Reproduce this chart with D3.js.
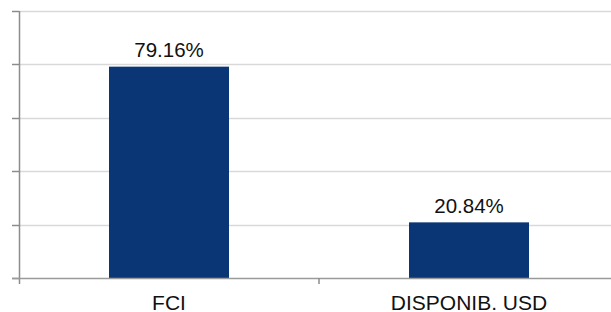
<!DOCTYPE html>
<html>
<head>
<meta charset="utf-8">
<script src="https://cdn.jsdelivr.net/npm/d3@7"></script>
<style>
  body { margin: 0; background: #fff; }
  svg text { font-family: "Liberation Sans", Arial, sans-serif; fill: #111; }
</style>
</head>
<body>
<div id="chart"></div>
<script>
var categories = ["FCI", "DISPONIB. USD"];
var values = [79.16, 20.84];
var yTicks = [0, 20, 40, 60, 80, 100];

var width = 611, height = 312;
var margin = {top: 11, right: -8, bottom: 34, left: 19};

var svg = d3.select("#chart").append("svg")
    .attr("width", width)
    .attr("height", height);

var x = d3.scaleBand()
    .domain(categories)
    .range([margin.left, width - margin.right])
    .paddingInner(0.6)
    .paddingOuter(0.3);

var y = d3.scaleLinear()
    .domain([0, 100])
    .range([height - margin.bottom, margin.top]);

// gridlines
svg.append("g").selectAll("line")
    .data(yTicks.slice(1))
    .enter().append("line")
    .attr("x1", margin.left).attr("x2", width)
    .attr("y1", function(d){ return Math.round(y(d)) + 0.5; })
    .attr("y2", function(d){ return Math.round(y(d)) + 0.5; })
    .style("stroke", "#d9d9d9")
    .style("stroke-width", 1.5);

// bars
svg.append("g").selectAll("rect")
    .data(values)
    .enter().append("rect")
    .attr("x", function(d, i){ return x(categories[i]); })
    .attr("width", x.bandwidth())
    .attr("y", function(d){ return y(d); })
    .attr("height", function(d){ return y(0) - y(d); })
    .style("fill", "#0a3675");

// value labels
svg.append("g").selectAll("text")
    .data(values)
    .enter().append("text")
    .attr("x", function(d, i){ return x(categories[i]) + x.bandwidth() / 2; })
    .attr("y", function(d){ return y(d) - 9.5; })
    .attr("text-anchor", "middle")
    .style("font-size", "20.5px")
    .text(function(d){ return d.toFixed(2) + "%"; });

// y axis line + ticks
var yb = y(0);
svg.append("line")
    .attr("x1", margin.left + 0.5).attr("x2", margin.left + 0.5)
    .attr("y1", y(100)).attr("y2", yb + 6)
    .style("stroke", "#8c8c8c").style("stroke-width", 1.5);
svg.append("g").selectAll("line")
    .data(yTicks)
    .enter().append("line")
    .attr("x1", margin.left - 7).attr("x2", margin.left)
    .attr("y1", function(d){ return Math.round(y(d)) + 0.5; })
    .attr("y2", function(d){ return Math.round(y(d)) + 0.5; })
    .style("stroke", "#8c8c8c").style("stroke-width", 1.5);

// x axis baseline
svg.append("line")
    .attr("x1", margin.left - 7).attr("x2", width)
    .attr("y1", Math.round(yb) + 0.5).attr("y2", Math.round(yb) + 0.5)
    .style("stroke", "#9a9a9a").style("stroke-width", 1.5);

// category separator tick
var sep = x(categories[1]) - x.step() * x.paddingInner() / 2;
svg.append("line")
    .attr("x1", sep).attr("x2", sep)
    .attr("y1", yb).attr("y2", yb + 6)
    .style("stroke", "#8c8c8c").style("stroke-width", 1.5);

// category labels
svg.append("g").selectAll("text")
    .data(categories)
    .enter().append("text")
    .attr("x", function(d){ return x(d) + x.bandwidth() / 2; })
    .attr("y", yb + 31.5)
    .attr("text-anchor", "middle")
    .style("font-size", "21px")
    .text(function(d){ return d; });
</script>
</body>
</html>
